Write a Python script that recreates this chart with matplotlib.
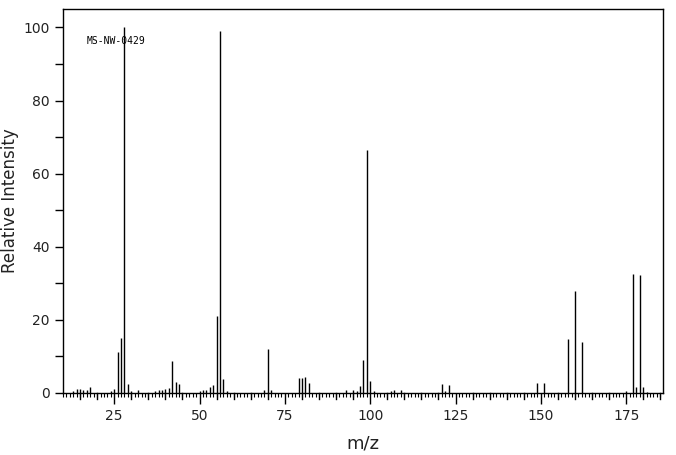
import numpy as np
import matplotlib.pyplot as plt
from matplotlib.ticker import MultipleLocator

# peaks (m/z, relative intensity)
mz = [13, 14, 15, 16, 17, 18, 24, 25, 26, 27, 28, 29, 30, 32,
      37, 38, 39, 40, 41, 42, 43, 44, 50, 51, 52, 53, 54, 55, 56, 57, 58,
      69, 70, 71, 79, 80, 81, 82, 93, 95, 96, 97, 98, 99, 100, 101,
      106, 107, 109, 121, 122, 123, 149, 151, 158, 160, 162,
      175, 177, 178, 179, 180, 181]
intensity = [0.5, 1.2, 1.2, 0.7, 0.9, 1.7, 0.5, 1.2, 11.3, 15.0, 100.0, 2.5, 0.5, 0.9,
             0.5, 0.7, 0.9, 1.0, 1.3, 8.8, 3.0, 2.5, 0.5, 0.8, 0.8, 1.6, 2.2, 21.0, 99.0, 3.8, 0.5,
             0.8, 12.0, 0.8, 4.1, 4.1, 4.3, 2.8, 0.8, 0.8, 0.5, 2.0, 9.0, 66.5, 3.3, 0.5,
             0.5, 0.7, 0.7, 2.5, 0.5, 2.2, 2.8, 2.8, 14.7, 28.0, 14.0,
             0.5, 32.5, 1.6, 32.2, 1.6, 0.3]
sample_id = "MS-NW-0429"

fig = plt.figure(figsize=(6.76, 4.55), dpi=100)
ax = fig.add_axes([0.0932, 0.1363, 0.8876, 0.8437])

ax.vlines(mz, 0, intensity, colors="black", linewidth=1.0)

ax.set_xlim(10, 185.8)
ax.set_ylim(0, 105)

txt_color = "#222222"
ax.xaxis.set_major_locator(MultipleLocator(25))
ax.xaxis.set_minor_locator(MultipleLocator(1))
ax.yaxis.set_major_locator(MultipleLocator(20))
ax.yaxis.set_minor_locator(MultipleLocator(10))
ax.tick_params(axis="x", which="major", direction="out", length=8, width=1,
               labelsize=10, labelcolor=txt_color, top=False)
ax.tick_params(axis="x", which="minor", direction="out", length=3, width=0.8, top=False)
ax.tick_params(axis="y", which="major", direction="out", length=6, width=1,
               labelsize=10, labelcolor=txt_color, right=False)
ax.tick_params(axis="y", which="minor", direction="out", length=6, width=1, right=False)

# medium ticks every 5 m/z
for m in range(15, 186, 5):
    if m % 25 == 0:
        continue
    ax.plot([m, m], [0, -5.5 / 366 * 105], color="black", lw=1.0, clip_on=False)

for s in ax.spines.values():
    s.set_linewidth(1.0)

ax.set_xlabel("m/z", fontsize=13, color=txt_color, labelpad=8)
ax.set_ylabel("Relative Intensity", fontsize=12, color=txt_color, labelpad=3)

ax.text(17.0, 96.2, sample_id, fontsize=7, family="DejaVu Sans Mono",
        va="center", ha="left", color="black")

fig.savefig("out.png", dpi=100)
